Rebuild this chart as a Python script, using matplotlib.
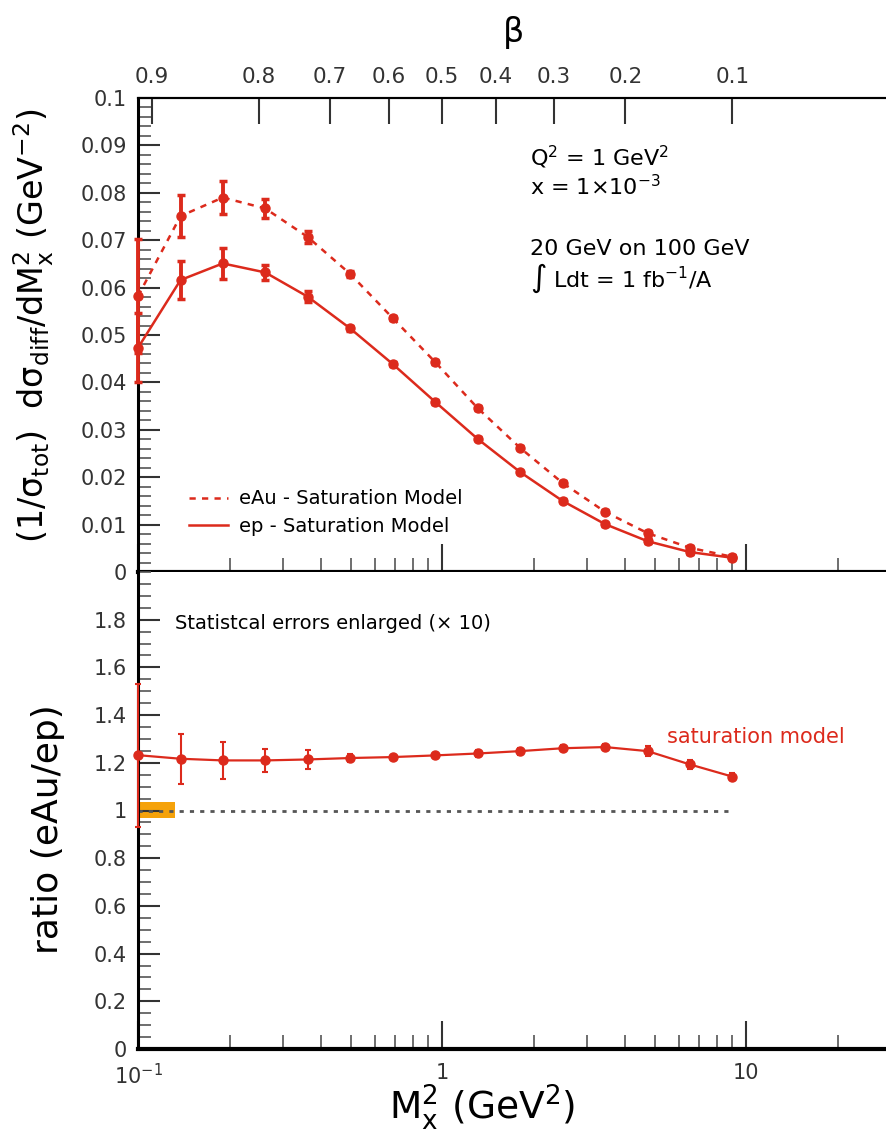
import matplotlib
matplotlib.use("Agg")
import matplotlib.pyplot as plt
from matplotlib.ticker import FixedLocator, NullFormatter, NullLocator, MultipleLocator, LogLocator
from matplotlib.patches import Rectangle

plt.rcParams['font.family'] = ['DejaVu Sans']
plt.rcParams['mathtext.default'] = 'regular'

# data
mx2 = [0.1, 0.138, 0.19, 0.262, 0.361, 0.498, 0.687, 0.948, 1.307, 1.803, 2.487, 3.431, 4.733, 6.529, 9.0]

eau = [0.0582, 0.0751, 0.0790, 0.0767, 0.0707, 0.0629, 0.0536, 0.0443, 0.0346, 0.0262, 0.0188, 0.0127, 0.0082, 0.0051, 0.0032]
eau_err = [0.012, 0.0045, 0.0035, 0.0020, 0.0012, 0.0006, 0.0005, 0.0004, 0.0004, 0.0003, 0.0003, 0.0003, 0.0005, 0.0004, 0.0003]

ep = [0.0473, 0.0616, 0.0651, 0.0632, 0.0581, 0.0514, 0.0439, 0.0359, 0.0281, 0.0211, 0.0150, 0.0101, 0.0065, 0.0042, 0.0030]
ep_err = [0.0073, 0.0041, 0.0032, 0.0015, 0.0012, 0.0005, 0.0004, 0.0004, 0.0003, 0.0003, 0.0003, 0.0003, 0.0004, 0.0003, 0.0003]

ratio = [1.232, 1.217, 1.210, 1.210, 1.214, 1.220, 1.224, 1.231, 1.239, 1.249, 1.261, 1.266, 1.249, 1.193, 1.142]
ratio_err = [0.30, 0.105, 0.077, 0.047, 0.038, 0.015, 0.008, 0.012, 0.015, 0.015, 0.012, 0.012, 0.02, 0.02, 0.015]

beta_ticks = [0.9, 0.8, 0.7, 0.6, 0.5, 0.4, 0.3, 0.2, 0.1]
Q2 = 1.0

red = '#dc2a1c'

fig = plt.figure(figsize=(8.87, 11.42), dpi=100)
left, right = 138 / 887, 1.0
ax1 = fig.add_axes([left, 1 - 572 / 1142, right - left, (572 - 98) / 1142])
ax2 = fig.add_axes([left, 1 - 1049 / 1142, right - left, (1049 - 572) / 1142], sharex=ax1)

xmin, xmax = 0.1, 29

# ---------- upper panel
ax1.plot(mx2, eau, color=red, lw=1.8, ls=(0, (2.5, 2.5)), label='eAu - Saturation Model')
ax1.plot(mx2, ep, color=red, lw=1.8, label='ep - Saturation Model')
ax1.errorbar(mx2, eau, yerr=eau_err, fmt='o', color=red, ms=6.5, elinewidth=2.8, capsize=3, capthick=2.5, zorder=3, clip_on=False)
ax1.errorbar(mx2, ep, yerr=ep_err, fmt='o', color=red, ms=6.5, elinewidth=2.8, capsize=3, capthick=2.5, zorder=3, clip_on=False)

ax1.set_xscale('log')
ax1.set_xlim(xmin, xmax)
ax1.set_ylim(0, 0.1)
ax1.yaxis.set_minor_locator(MultipleLocator(0.002))
ax1.set_yticks([0, 0.01, 0.02, 0.03, 0.04, 0.05, 0.06, 0.07, 0.08, 0.09, 0.1])
ax1.set_yticklabels(['0', '0.01', '0.02', '0.03', '0.04', '0.05', '0.06', '0.07', '0.08', '0.09', '0.1'])
ax1.tick_params(axis='x', which='both', labelbottom=False)
ax1.set_ylabel(r'$(1/\sigma_{tot})$  $d\sigma_{diff}/dM_x^2$ (GeV$^{-2}$)', fontsize=24)
ax1.yaxis.set_label_coords(-0.11, 0.52)

ax1.text(0.524, 0.874, r'Q$^2$ = 1 GeV$^2$', transform=ax1.transAxes, fontsize=16, va='center')
ax1.text(0.524, 0.813, r'x = 1$\times$10$^{-3}$', transform=ax1.transAxes, fontsize=16, va='center')
ax1.text(0.524, 0.682, '20 GeV on 100 GeV', transform=ax1.transAxes, fontsize=16, va='center')
ax1.text(0.524, 0.619, r'$\int$ Ldt = 1 fb$^{-1}$/A', transform=ax1.transAxes, fontsize=16, va='center')

ax1.legend(loc='lower left', bbox_to_anchor=(0.055, 0.055), frameon=False, fontsize=14,
           handlelength=2.0, handletextpad=0.6, labelspacing=0.45, borderpad=0)

# top beta axis
axt = ax1.twiny()
axt.set_xscale('log')
axt.set_xlim(xmin, xmax)
axt.xaxis.set_major_locator(FixedLocator([Q2 / b - Q2 for b in beta_ticks]))
axt.xaxis.set_minor_locator(NullLocator())
axt.set_xticklabels([str(b) for b in beta_ticks])
axt.tick_params(axis='x', which='major', direction='in', length=19, width=1.5, labelsize=15.5, pad=8, colors='#333333')
axt.set_xlabel(r'$\beta$', fontsize=24, labelpad=18)

# ---------- lower panel
ax2.add_patch(Rectangle((0.1, 0.968), 0.032, 0.067, color='#f5a20a', zorder=1, lw=0))
ax2.plot([0.1, 9.0], [1, 1], color='#555555', lw=2, ls=(0, (1.5, 2.2)), zorder=2)
ax2.plot(mx2, ratio, color=red, lw=1.6, zorder=3)
ax2.errorbar(mx2, ratio, yerr=ratio_err, fmt='o', color=red, ms=6.5, elinewidth=1.5, capsize=2.5, capthick=1.5, zorder=4, clip_on=False)

ax2.set_ylim(0, 2)
ax2.set_yticks([0, 0.2, 0.4, 0.6, 0.8, 1.0, 1.2, 1.4, 1.6, 1.8])
ax2.set_yticklabels(['0', '0.2', '0.4', '0.6', '0.8', '1', '1.2', '1.4', '1.6', '1.8'])
ax2.yaxis.set_minor_locator(MultipleLocator(0.05))
ax2.text(0.05, 0.892, 'Statistcal errors enlarged (\u00d7 10)', transform=ax2.transAxes, fontsize=14, va='center')
ax2.text((667 - 138) / 749, (1049 - 737) / 477, 'saturation model', transform=ax2.transAxes, fontsize=15, color=red, va='center')

ax2.set_xticks([0.1, 1, 10])
ax2.set_xticklabels([r'10$^{-1}$', '1', '10'])
ax2.xaxis.set_minor_locator(LogLocator(base=10, subs=[2, 3, 4, 5, 6, 7, 8, 9]))
ax2.xaxis.set_minor_formatter(NullFormatter())
ax2.set_xlabel(r'M$_x^2$ (GeV$^2$)', fontsize=27)
ax2.xaxis.set_label_coords((482 - 138) / 749, -0.07)
ax2.set_ylabel('ratio (eAu/ep)', fontsize=26)
ax2.yaxis.set_label_coords(-0.097, 0.46)

for ax in (ax1, ax2):
    ax.spines['right'].set_visible(False)
    ax.spines['left'].set_linewidth(2.2)
    ax.spines['bottom'].set_linewidth(3)
    ax.tick_params(axis='y', which='major', direction='in', length=16, width=1.5, labelsize=15, pad=8, colors='#333333')
    ax.tick_params(axis='y', which='minor', direction='in', length=9, width=1.2, colors='#555555')
    ax.tick_params(axis='x', which='major', direction='in', length=20, width=1.5, labelsize=15, pad=10, colors='#333333', top=False)
    ax.tick_params(axis='x', which='minor', direction='in', length=10, width=1.2, colors='#555555', top=False)
    ax.tick_params(axis='y', right=False)
ax1.spines['top'].set_linewidth(1.5)
ax2.spines['top'].set_visible(False)
axt.spines['right'].set_visible(False)
axt.spines['top'].set_linewidth(1.5)
axt.spines['left'].set_visible(False)
axt.spines['bottom'].set_visible(False)

fig.savefig('out.png', dpi=100)
